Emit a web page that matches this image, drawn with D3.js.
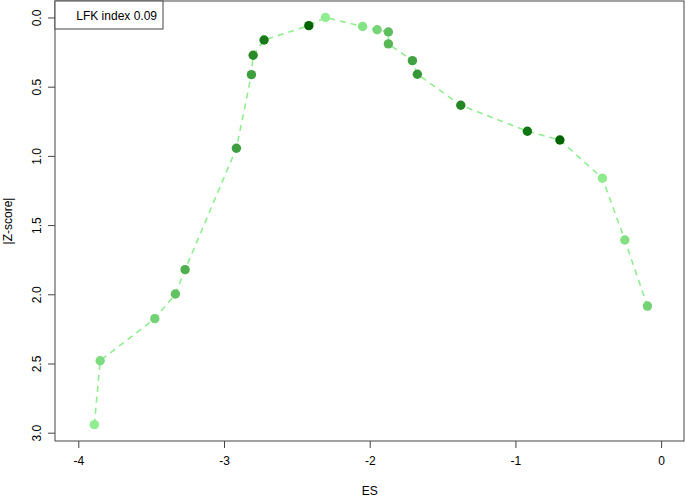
<!DOCTYPE html>
<html>
<head>
<meta charset="utf-8">
<script src="https://cdn.jsdelivr.net/npm/d3@7"></script>
<style>
  html, body { margin: 0; padding: 0; background: #fff; }
  svg { display: block; font-family: "Liberation Sans", Arial, Helvetica, sans-serif; }
</style>
</head>
<body>
<svg id="chart" width="685" height="498"></svg>
<script>
// ---- data ----
const es =     [-3.890, -3.850, -3.475, -3.334, -3.267, -2.915, -2.812, -2.800, -2.725, -2.418, -2.304,
                -2.049, -1.949, -1.872, -1.872, -1.707, -1.673, -1.375, -0.918, -0.695, -0.403, -0.249, -0.094];
const zscore = [2.942, 2.480, 2.176, 1.998, 1.822, 0.945, 0.413, 0.273, 0.163, 0.059, 0.000,
                0.065, 0.089, 0.105, 0.191, 0.312, 0.410, 0.634, 0.822, 0.885, 1.162, 1.608, 2.085];
const shade =  [0.00, 0.13, 0.20, 0.32, 0.46, 0.57, 0.57, 0.72, 0.84, 1.00, 0.00,
                0.08, 0.18, 0.35, 0.40, 0.55, 0.62, 0.75, 0.88, 1.00, 0.02, 0.10, 0.20];
const xTicks = [-4, -3, -2, -1, 0];
const yTicks = [0.0, 0.5, 1.0, 1.5, 2.0, 2.5, 3.0];
const legendText = "LFK index 0.09";
const xLabel = "ES";
const yLabel = "|Z-score|";

// ---- layout ----
const box = { left: 55, right: 684, top: 1, bottom: 441 };
const svg = d3.select("#chart");

const x = d3.scaleLinear().domain([-4.16, 0.157]).range([box.left, box.right]);
const y = d3.scaleLinear().domain([-0.119, 3.06]).range([box.top, box.bottom]);
const color = d3.scaleLinear().domain([0, 1]).range(["#90EE90", "#006400"]).interpolate(d3.interpolateRgb);

const pts = es.map((v, i) => ({ es: v, z: zscore[i], s: shade[i] }));

// dashed connecting line
const line = d3.line().x(d => x(d.es)).y(d => y(d.z));
svg.append("path")
  .datum(pts)
  .attr("d", line)
  .attr("fill", "none")
  .attr("stroke", "#90EE90")
  .attr("stroke-width", 1.6)
  .attr("stroke-dasharray", "6,5");

// points
svg.append("g").selectAll("circle")
  .data(pts)
  .join("circle")
  .attr("cx", d => x(d.es))
  .attr("cy", d => y(d.z))
  .attr("r", 4.7)
  .attr("fill", d => color(d.s));

// bottom axis
const xAxis = d3.axisBottom(x).tickValues(xTicks).tickSize(7).tickPadding(8)
  .tickFormat(d => String(d));
const gx = svg.append("g").attr("transform", `translate(0,${box.bottom})`).call(xAxis);
gx.select(".domain").remove();
gx.selectAll("line").attr("stroke", "#444");
gx.selectAll("text").attr("font-size", 12).attr("fill", "#000")
  .attr("font-family", "Liberation Sans, Arial, sans-serif");

// left axis
const yAxis = d3.axisLeft(y).tickValues(yTicks).tickSize(7).tickFormat(d => d.toFixed(1));
const gy = svg.append("g").attr("transform", `translate(${box.left},0)`).call(yAxis);
gy.select(".domain").remove();
gy.selectAll("line").attr("stroke", "#444");
gy.selectAll("text")
  .attr("font-size", 12).attr("fill", "#000")
  .attr("font-family", "Liberation Sans, Arial, sans-serif")
  .attr("x", null).attr("dy", null)
  .attr("text-anchor", "middle")
  .attr("transform", "translate(-18,0) rotate(-90)")
  .attr("dy", "0.35em");

// plot box
svg.append("rect")
  .attr("x", box.left).attr("y", box.top)
  .attr("width", box.right - box.left).attr("height", box.bottom - box.top)
  .attr("fill", "none").attr("stroke", "#444").attr("stroke-width", 1);

// axis titles
svg.append("text").attr("x", x(-2)).attr("y", 495)
  .attr("text-anchor", "middle").attr("font-size", 12).text(xLabel);
svg.append("text")
  .attr("transform", `translate(12,${(box.top + box.bottom) / 2}) rotate(-90)`)
  .attr("text-anchor", "middle").attr("font-size", 12).text(yLabel);

// legend box
svg.append("rect")
  .attr("x", box.left).attr("y", box.top)
  .attr("width", 108).attr("height", 28)
  .attr("fill", "#fff").attr("stroke", "#444").attr("stroke-width", 1);
svg.append("text").attr("x", 157).attr("y", 19.5)
  .attr("text-anchor", "end").attr("font-size", 12).text(legendText);
</script>
</body>
</html>
